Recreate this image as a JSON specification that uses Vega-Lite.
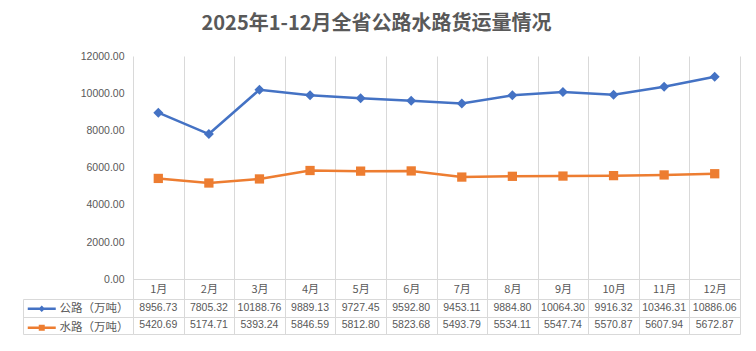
{
  "$schema": "https://vega.github.io/schema/vega-lite/v6.json",
  "width": 607,
  "height": 278,
  "autosize": {"type": "none"},
  "padding": {"left": 133, "top": 56, "right": 9, "bottom": 17},
  "background": "white",
  "title": {
    "text": "2025年1-12月全省公路水路货运量情况",
    "font": "Noto Sans CJK SC",
    "fontSize": 20,
    "fontWeight": "bold",
    "color": "#595959",
    "anchor": "middle",
    "frame": "group",
    "dx": -60,
    "offset": -3,
    "baseline": "bottom"
  },
  "data": {
    "values": [
      {"month": "1月", "series": "公路（万吨）", "value": 8956.73},
      {"month": "2月", "series": "公路（万吨）", "value": 7805.32},
      {"month": "3月", "series": "公路（万吨）", "value": 10188.76},
      {"month": "4月", "series": "公路（万吨）", "value": 9889.13},
      {"month": "5月", "series": "公路（万吨）", "value": 9727.45},
      {"month": "6月", "series": "公路（万吨）", "value": 9592.80},
      {"month": "7月", "series": "公路（万吨）", "value": 9453.11},
      {"month": "8月", "series": "公路（万吨）", "value": 9884.80},
      {"month": "9月", "series": "公路（万吨）", "value": 10064.30},
      {"month": "10月", "series": "公路（万吨）", "value": 9916.32},
      {"month": "11月", "series": "公路（万吨）", "value": 10346.31},
      {"month": "12月", "series": "公路（万吨）", "value": 10886.06},
      {"month": "1月", "series": "水路（万吨）", "value": 5420.69},
      {"month": "2月", "series": "水路（万吨）", "value": 5174.71},
      {"month": "3月", "series": "水路（万吨）", "value": 5393.24},
      {"month": "4月", "series": "水路（万吨）", "value": 5846.59},
      {"month": "5月", "series": "水路（万吨）", "value": 5812.80},
      {"month": "6月", "series": "水路（万吨）", "value": 5823.68},
      {"month": "7月", "series": "水路（万吨）", "value": 5493.79},
      {"month": "8月", "series": "水路（万吨）", "value": 5534.11},
      {"month": "9月", "series": "水路（万吨）", "value": 5547.74},
      {"month": "10月", "series": "水路（万吨）", "value": 5570.87},
      {"month": "11月", "series": "水路（万吨）", "value": 5607.94},
      {"month": "12月", "series": "水路（万吨）", "value": 5672.87}
    ]
  },
  "encoding": {
    "x": {
      "field": "month",
      "type": "ordinal",
      "scale": {
        "type": "band",
        "domain": ["1月", "2月", "3月", "4月", "5月", "6月", "7月", "8月", "9月", "10月", "11月", "12月"],
        "paddingInner": 0,
        "paddingOuter": 0
      },
      "axis": {
        "orient": "bottom",
        "offset": -55,
        "title": null,
        "labelAngle": 0,
        "labelFont": "Noto Sans CJK SC",
        "labelFontSize": 11,
        "labelColor": "#595959",
        "labelPadding": 10,
        "labelBaseline": "middle",
        "ticks": false,
        "domain": true,
        "domainColor": "#d9d9d9",
        "domainWidth": 1,
        "grid": true,
        "gridColor": "#d9d9d9",
        "gridWidth": 1,
        "tickBand": "extent"
      }
    }
  },
  "layer": [
    {
      "encoding": {
        "y": {
          "field": "value",
          "type": "quantitative",
          "scale": {"domain": [-2940, 12000], "nice": false, "zero": false},
          "axis": {
            "orient": "left",
            "values": [0, 2000, 4000, 6000, 8000, 10000, 12000],
            "format": ".2f",
            "title": null,
            "domain": false,
            "ticks": false,
            "grid": false,
            "labelFont": "Liberation Sans",
            "labelFontSize": 10.5,
            "labelColor": "#595959",
            "labelPadding": 9
          }
        },
        "color": {
          "field": "series",
          "type": "nominal",
          "scale": {"domain": ["公路（万吨）", "水路（万吨）"], "range": ["#4472C4", "#ED7D31"]},
          "legend": {
            "orient": "none",
            "legendX": -97,
            "legendY": 247,
            "title": null,
            "padding": 0,
            "symbolSize": 100,
            "labelOffset": 12,
            "rowPadding": 6,
            "labelFont": "Noto Sans CJK SC",
            "labelFontSize": 11.5,
            "labelColor": "#595959",
            "encode": {
              "symbols": {
                "update": {
                  "shape": {"signal": "datum.value === '公路（万吨）' ? 'M-2.8,-0.25H2.8V0.25H-2.8Z M0,-0.65L0.65,0L0,0.65L-0.65,0Z' : 'M-2.8,-0.25H2.8V0.25H-2.8Z M-0.6,-0.6H0.6V0.6H-0.6Z'"},
                  "fill": {"scale": "color", "field": "value"},
                  "fillOpacity": {"value": 1},
                  "opacity": {"value": 1},
                  "strokeWidth": {"value": 0}
                }
              }
            }
          }
        }
      },
      "layer": [
        {"mark": {"type": "line", "strokeWidth": 2.5}},
        {
          "transform": [{"filter": "datum.series === '公路（万吨）'"}],
          "mark": {"type": "point", "filled": true, "opacity": 1, "shape": "diamond", "size": 100}
        },
        {
          "transform": [{"filter": "datum.series === '水路（万吨）'"}],
          "mark": {"type": "point", "filled": true, "opacity": 1, "shape": "square", "size": 86}
        }
      ]
    },
    {
      "mark": {"type": "text", "font": "Liberation Sans", "fontSize": 10.5, "color": "#595959", "baseline": "middle", "align": "center"},
      "encoding": {
        "y": {
          "field": "series",
          "type": "nominal",
          "scale": {
            "type": "band",
            "domain": ["公路（万吨）", "水路（万吨）"],
            "range": [243, 278],
            "paddingInner": 0,
            "paddingOuter": 0
          },
          "axis": {
            "orient": "left",
            "offset": 110,
            "title": null,
            "labels": false,
            "domain": true,
            "domainColor": "#d9d9d9",
            "ticks": true,
            "tickBand": "extent",
            "tickSize": -110,
            "tickColor": "#d9d9d9",
            "grid": true,
            "gridColor": "#d9d9d9"
          }
        },
        "text": {"field": "value", "type": "quantitative", "format": ".2f"}
      }
    }
  ],
  "resolve": {"scale": {"y": "independent"}, "axis": {"y": "independent"}},
  "config": {"view": {"stroke": null}}
}
